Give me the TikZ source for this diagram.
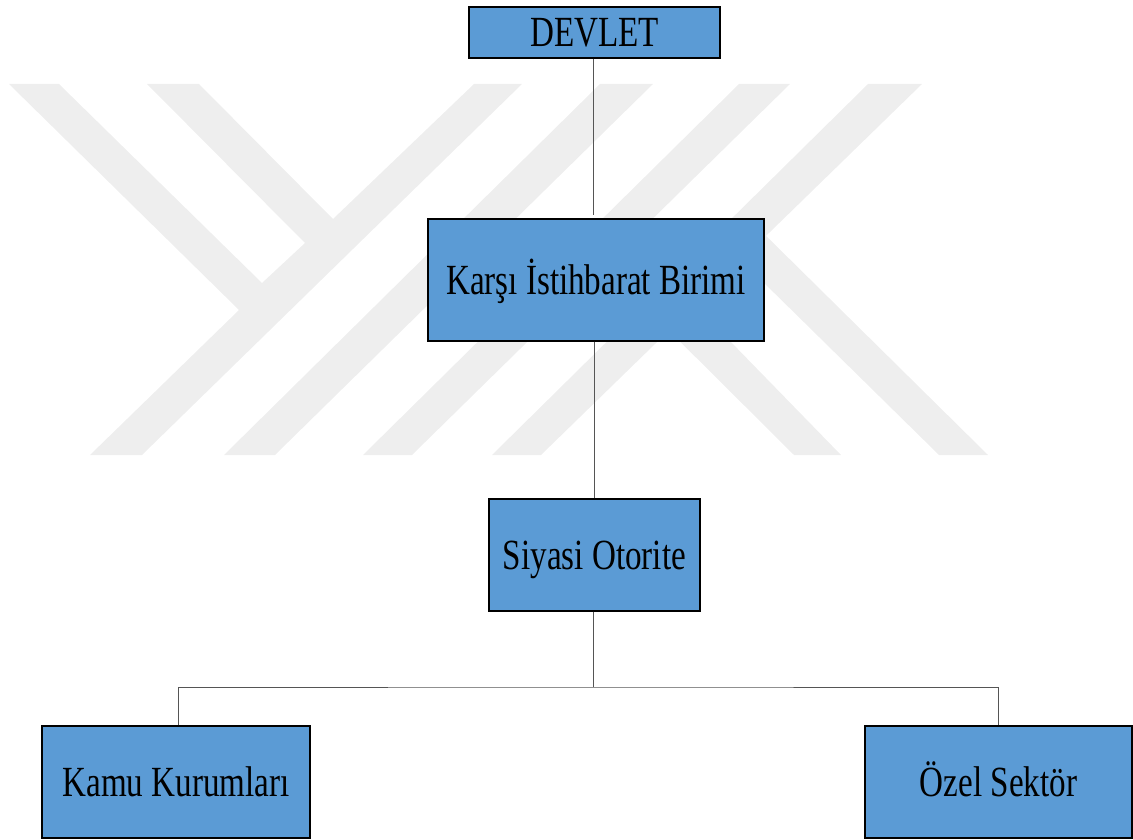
\documentclass[tikz,border=0pt]{standalone}
\usepackage{fontspec}
\setmainfont{Liberation Serif}
\definecolor{boxblue}{HTML}{5B9BD5}
\definecolor{wmgray}{HTML}{EEEEEE}
\definecolor{linkgray}{HTML}{555555}
\newcommand{\sqz}[2]{\scalebox{#1}[1]{#2}}
\tikzset{
  box/.style={draw=black,line width=1.1pt,fill=boxblue,inner sep=0pt,text=black,
    text height=29pt,text depth=0pt,font=\fontsize{43}{48}\selectfont,anchor=center},
  link/.style={draw=linkgray,line width=1pt},
  wm/.style={fill=wmgray,draw=none}
}
\begin{document}
\begin{tikzpicture}[x=1pt,y=-1pt]
\useasboundingbox (0,0) rectangle (1133,840);
% watermark
\fill[wm] (9,84)--(59,84)--(262,283)--(305,243)--(147,84)--(199,84)--(333,219)--(474,84)--(522,84)--(142,455)--(90,455)--(239,310)--cycle;
\fill[wm] (600,84)--(653,84)--(275,455)--(224,455)--cycle;
\fill[wm] (739,84)--(790,84)--(412,455)--(363,455)--cycle;
\fill[wm] (868,84)--(922,84)--(541,455)--(492,455)--cycle;
\fill[wm] (600,262)--(653,262)--(841,455)--(794,455)--cycle;
\fill[wm] (700,220)--(750,220)--(988,455)--(939,455)--cycle;
% boxes
\node[box,minimum width=251pt,minimum height=51pt] (devlet) at (594.5,32.5) {\sqz{0.77}{DEVLET}};
\node[box,minimum width=336pt,minimum height=122pt] (karsi) at (596,280) {\sqz{0.77}{Karşı İstihbarat Birimi}};
\node[box,minimum width=211pt,minimum height=112pt] (siyasi) at (594.5,555) {\sqz{0.77}{Siyasi Otorite}};
\node[box,minimum width=268pt,minimum height=112pt] (kamu) at (176,782) {\sqz{0.77}{Kamu Kurumları}};
\node[box,minimum width=267pt,minimum height=112pt] (ozel) at (998.5,782) {\sqz{0.77}{Özel Sektör}};
\coordinate (j) at (593,687);
% connectors
\draw[link,shorten >=3pt] ([xshift=-1.5pt]devlet.south) -- ([xshift=-1.5pt]devlet.south |- karsi.north);
\draw[link] (karsi.south -| siyasi.north) -- (siyasi.north);
\draw[link] ([xshift=-1.5pt]siyasi.south) -- (j);
\draw[link] ([xshift=2.5pt]kamu.north) |- (j) -| (ozel.north);
\end{tikzpicture}
\end{document}
